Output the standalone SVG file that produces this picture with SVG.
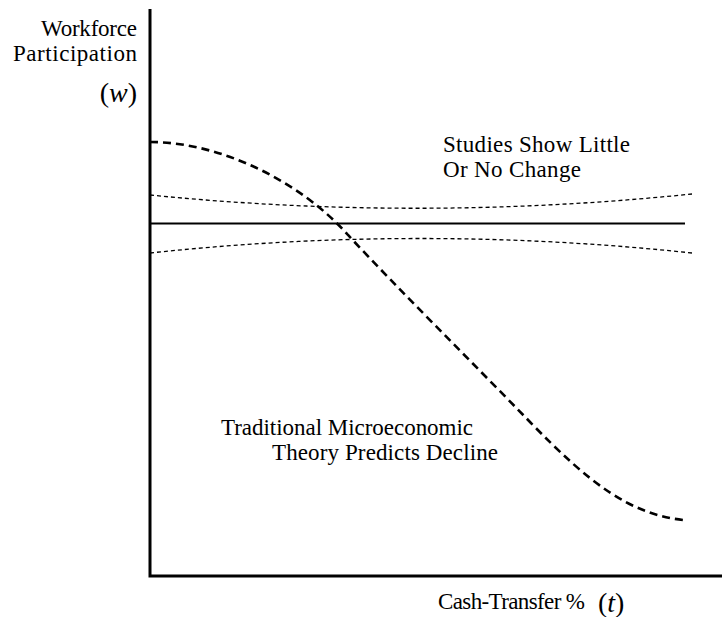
<svg xmlns="http://www.w3.org/2000/svg" width="722" height="617" viewBox="0 0 722 617">
  <style>
    .lbl { font-family: "Liberation Serif", "DejaVu Serif", serif; font-size: 23px; fill: #000; }
    .var { font-family: "Liberation Serif", "DejaVu Serif", serif; font-style: italic; font-size: 28px; fill: #000; }
    .axis { stroke: #000; stroke-width: 3; fill: none; }
    .flat { stroke: #000; stroke-width: 2.2; fill: none; }
    .band { stroke: #000; stroke-width: 1.3; stroke-dasharray: 4 3; fill: none; }
    .theory { stroke: #000; stroke-width: 2.6; stroke-dasharray: 8 5; fill: none; }
  </style>

  <!-- axes -->
  <g id="axes">
    <path class="axis" d="M150,9 V576 H722"/>
  </g>

  <!-- curves -->
  <g id="connectors">
    <path id="band-upper" class="band" d="M150,195 Q420,222 692,194"/>
    <path id="band-lower" class="band" d="M150,253 Q420,224 692,253"/>
    <path id="observed" class="flat" d="M150,223.5 H685"/>
    <path id="predicted" class="theory" d="M150,142 C222,142 302,183 348,235 C402,293 470,360 530,422 C590,484 630,514 683,520"/>
  </g>

  <!-- axis labels -->
  <g id="y-label">
    <text class="lbl" x="137" y="36" text-anchor="end" textLength="96">Workforce</text>
    <text class="lbl" x="137" y="61" text-anchor="end" textLength="124">Participation</text>
    <text class="var" x="137" y="102" text-anchor="end"><tspan font-style="normal">(</tspan>w<tspan font-style="normal">)</tspan></text>
  </g>
  <g id="x-label">
    <text class="lbl" x="438" y="609" textLength="147">Cash-Transfer %</text>
    <text class="var" x="598" y="612"><tspan font-style="normal">(</tspan>t<tspan font-style="normal">)</tspan></text>
  </g>

  <!-- annotations -->
  <g id="studies-note">
    <text class="lbl" x="443" y="152" textLength="187">Studies Show Little</text>
    <text class="lbl" x="443" y="177" textLength="138">Or No Change</text>
  </g>
  <g id="theory-note">
    <text class="lbl" x="221" y="435" textLength="252">Traditional Microeconomic</text>
    <text class="lbl" x="272" y="460" textLength="226">Theory Predicts Decline</text>
  </g>
</svg>
